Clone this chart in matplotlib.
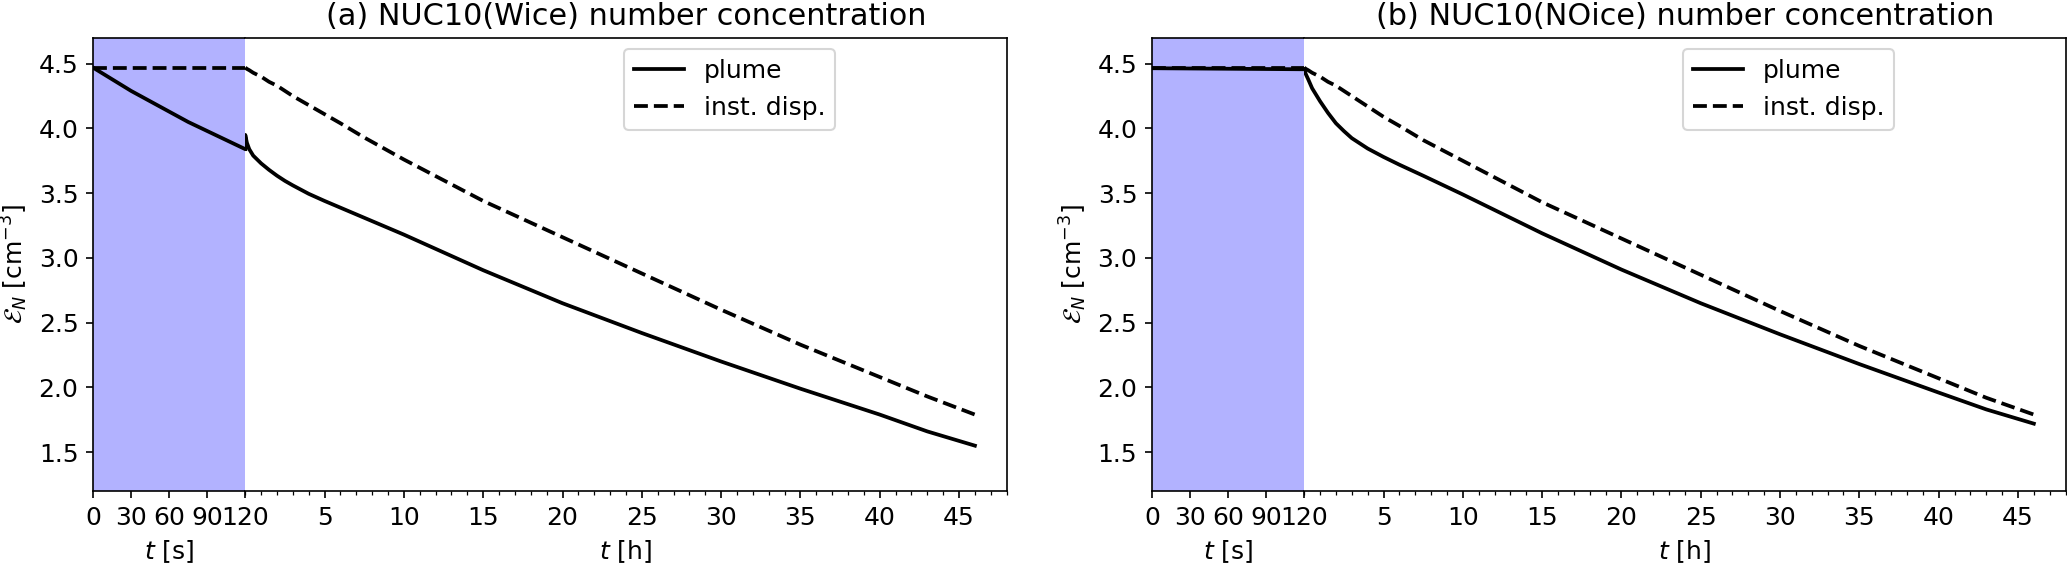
import numpy as np
import matplotlib
matplotlib.use('Agg')
import matplotlib.pyplot as plt
from matplotlib.ticker import MultipleLocator

# time in the injection phase [s] and in the dispersion phase [h]
t_sec = [0, 15, 30, 45, 60, 75, 90, 105, 120]
t_hour = [0, 0.1, 0.25, 0.5, 1, 1.5, 2, 2.5, 3, 4, 5, 6, 7.5, 10, 15, 20, 25, 30, 35, 40, 43, 46]

# (a) NUC10(Wice)
a_plume_sec = [4.47, 4.38, 4.29, 4.21, 4.13, 4.05, 3.98, 3.91, 3.84]
a_plume_hour = [3.95, 3.89, 3.84, 3.79, 3.73, 3.68, 3.635, 3.595, 3.56, 3.495, 3.44, 3.388,
                3.31, 3.18, 2.905, 2.65, 2.42, 2.20, 1.99, 1.79, 1.66, 1.55]
a_disp_sec = [4.47] * 9
a_disp_hour = [4.47, 4.46, 4.45, 4.43, 4.40, 4.36, 4.33, 4.29, 4.25, 4.18, 4.11, 4.04, 3.93,
               3.76, 3.44, 3.16, 2.88, 2.60, 2.33, 2.08, 1.93, 1.79]

# (b) NUC10(NOice)
b_plume_sec = [4.465, 4.464, 4.463, 4.462, 4.461, 4.460, 4.459, 4.458, 4.457]
b_plume_hour = [4.46, 4.42, 4.38, 4.31, 4.21, 4.12, 4.04, 3.98, 3.925, 3.845, 3.78, 3.72,
                3.635, 3.49, 3.19, 2.91, 2.65, 2.41, 2.18, 1.96, 1.83, 1.72]
b_disp_sec = [4.47] * 9
b_disp_hour = [4.47, 4.46, 4.45, 4.43, 4.40, 4.36, 4.33, 4.29, 4.25, 4.17, 4.09, 4.02, 3.91,
               3.75, 3.43, 3.15, 2.87, 2.59, 2.32, 2.07, 1.92, 1.79]

titles = ['(a) NUC10(Wice) number concentration', '(b) NUC10(NOice) number concentration']
panels = [(a_plume_sec, a_plume_hour, a_disp_sec, a_disp_hour),
          (b_plume_sec, b_plume_hour, b_disp_sec, b_disp_hour)]

fig = plt.figure(figsize=(13.78, 3.767), dpi=150)
lefts = [0.045, 0.5573]
width = 0.442
bottom, height = 0.131, 0.802
fs = 12

for i, (ps, ph, ds, dh) in enumerate(panels):
    l = lefts[i]
    ax_s = fig.add_axes([l, bottom, width / 6, height])
    ax_h = fig.add_axes([l + width / 6, bottom, width * 5 / 6, height], sharey=ax_s)

    # injection phase (seconds)
    ax_s.axvspan(0, 120, color='blue', alpha=0.3, lw=0)
    ax_s.plot(t_sec, ps, 'k-', lw=1.8)
    ax_s.plot(t_sec, ds, 'k--', lw=1.8)
    ax_s.set_xlim(0, 120)
    ax_s.set_xticks([0, 30, 60, 90, 120])
    ax_s.spines['right'].set_visible(False)
    ax_s.set_xlabel('$t$ [s]', fontsize=fs)
    ax_s.set_ylabel(r'$\mathcal{E}_N$ [cm$^{-3}$]', fontsize=fs)
    ax_s.set_ylim(1.2, 4.7)
    ax_s.set_yticks([1.5, 2.0, 2.5, 3.0, 3.5, 4.0, 4.5])
    ax_s.tick_params(labelsize=fs)

    # dispersion phase (hours); the plume jumps at the start of this phase
    ax_h.plot([0] + t_hour, [ps[-1]] + ph, 'k-', lw=1.8, label='plume')
    ax_h.plot(t_hour, dh, 'k--', lw=1.8, label='inst. disp.')
    ax_h.set_xlim(0, 48)
    ax_h.set_xticks([5, 10, 15, 20, 25, 30, 35, 40, 45])
    ax_h.xaxis.set_minor_locator(MultipleLocator(1))
    ax_h.spines['left'].set_visible(False)
    ax_h.tick_params(axis='y', left=False, labelleft=False)
    ax_h.tick_params(labelsize=fs)
    ax_h.set_xlabel('$t$ [h]', fontsize=fs)
    ax_h.set_title(titles[i], fontsize=14.5)
    ax_h.legend(loc='upper right', bbox_to_anchor=(0.775, 0.975), borderaxespad=0,
                fontsize=fs)

fig.savefig('out.png', dpi=150)
